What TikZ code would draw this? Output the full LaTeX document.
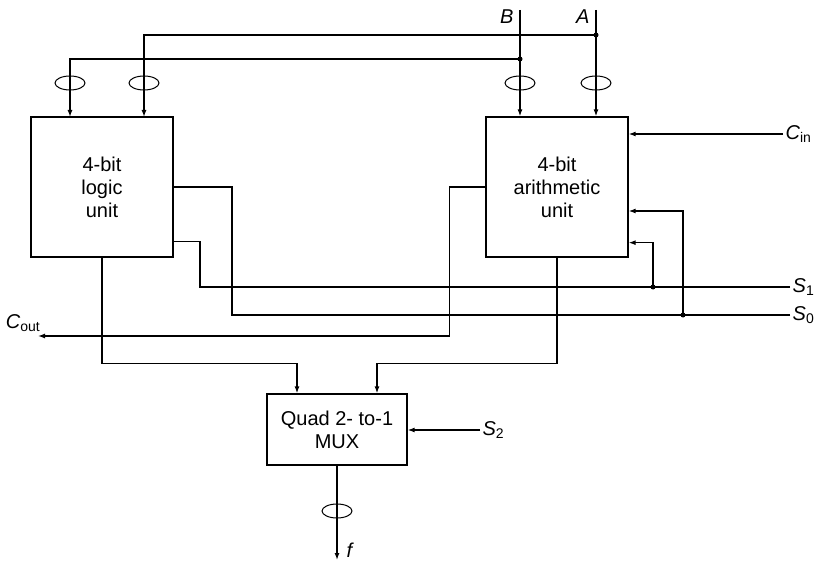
\documentclass[tikz,border=0pt]{standalone}
\usepackage{fontspec}
\setmainfont{Liberation Sans}
\usetikzlibrary{arrows.meta, positioning, calc}

\begin{document}
\begin{tikzpicture}[x=1pt, y=-1pt, line width=1.3pt, >={Latex[length=7pt,width=5pt]},
  unitbox/.style={draw, align=center, font=\fontsize{20}{23}\selectfont},
  sig/.style={font=\fontsize{20}{23}\selectfont\itshape, inner sep=2pt},
  busmark/.style={line width=1pt}]
\useasboundingbox (0,0) rectangle (816,561);

% blocks
\node[unitbox, minimum width=142pt, minimum height=140pt] (logic) at (102,187) {4-bit\\logic\\unit};
\node[unitbox, minimum width=142pt, minimum height=140pt] (arith) at (557,187) {4-bit\\arithmetic\\unit};
\node[unitbox, minimum width=140pt, minimum height=71pt] (mux) at (337,429.5) {Quad 2- to-1\\MUX};

% signal labels
\node[sig, anchor=east] (A) at (592,17) {A};
\node[sig, anchor=east] (B) at (516,17) {B};
\node[sig, anchor=west] (cin) at (783,134) {C\textsubscript{\upshape in}};
\node[sig, anchor=west] (s1) at (790,287) {S\textsubscript{\upshape 1}};
\node[sig, anchor=west] (s0) at (790,315) {S\textsubscript{\upshape 0}};
\node[sig, anchor=west] (s2) at (480,430) {S\textsubscript{\upshape 2}};
\coordinate (cout) at (38,336);
\node[sig, anchor=south east, inner sep=1pt] (coutl) at (42,333) {C\textsubscript{\upshape out}};
\coordinate (fend) at (337,560);
\node[sig, anchor=south west] (f) at (344,560) {f};

% operand buses
\coordinate (atop) at (596,10);
\coordinate (btop) at (520,10);
\coordinate (adot) at (596,35);
\coordinate (bdot) at (520,59);
\coordinate (la) at (144,117);
\coordinate (lb) at (70,117);
\draw[->] (atop) -- (arith.north -| atop);
\draw[->] (btop) -- (arith.north -| btop);
\draw[->] (adot) -| (la);
\draw[->] (bdot) -| (lb);
\fill (adot) circle (2.5);
\fill (bdot) circle (2.5);
\foreach \x in {70,144,520,596}
  \draw[busmark] (\x,83) ellipse (15 and 7);

% carry and select lines
\draw[->] (cin.west) -- (arith.east |- cin.west);
\coordinate (s1dot) at (653,287);
\coordinate (s0dot) at (683,315);
\draw (s1.west) -- ++(-590,0) |- ([yshift=16pt]logic.south east);
\draw (s0.west) -- ++(-558,0) |- (logic.east);
\draw[->] (s1dot) |- ([yshift=15pt]arith.south east);
\draw[->] (s0dot) |- ([yshift=-24pt]arith.east);
\fill (s1dot) circle (2.5);
\fill (s0dot) circle (2.5);
\draw[->] (arith.west) -- ++(-36,0) |- (cout);

% to the multiplexer
\coordinate (m1) at ([xshift=-40pt]mux.north);
\coordinate (m2) at ([xshift=40pt]mux.north);
\draw[->] (logic.south) -- ++(0,106) -| (m1);
\draw[->] (arith.south) -- ++(0,106) -| (m2);
\draw[->] (s2.west) -- (mux.east |- s2.west);
\draw[->] (mux.south) -- (fend);
\draw[busmark] (337,511) ellipse (15 and 7);
\end{tikzpicture}
\end{document}
